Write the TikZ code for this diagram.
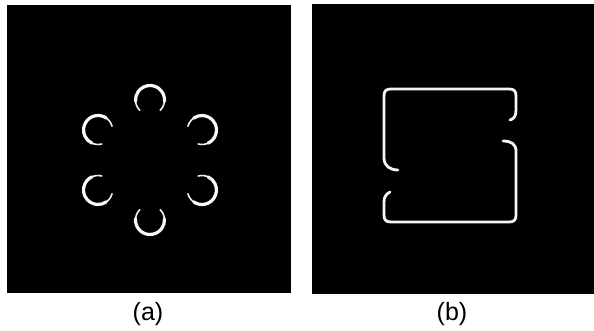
\documentclass[tikz,border=0pt]{standalone}
\usepackage{fontspec}
\setmainfont{Liberation Sans}
\usetikzlibrary{calc}
\begin{document}
\begin{tikzpicture}[x=1pt,y=1pt,
  panel/.style={fill=black,draw=none},
  ringthin/.style={draw=gray!12,line width=1.6pt,line cap=round},
  ringthick/.style={draw=gray!5,line width=3.2pt,line cap=round},
  loop/.style={draw=gray!8,line width=2.8pt,line cap=round,line join=round},
  lbl/.style={inner sep=0pt,font=\fontsize{25}{29}\selectfont}]
\useasboundingbox (0,0) rectangle (594,331);
\fill[white] (0,0) rectangle (594,331);
% panels
\fill[panel] (6.5,38) rectangle (290.5,326);
\fill[panel] (312,37) rectangle (594,327);
% (a) six crescents around a hexagon
\coordinate (hc) at (150,171);
\foreach \t in {90,150,210,270,330,30}{
  \draw[ringthin] ($(hc)+(\t:60)+(\t-135:14.5)$) arc[start angle=\t-135,end angle=\t+135,radius=14.5];
  \draw[ringthick] ($(hc)+(\t:60)+(\t-95:14.5)$) arc[start angle=\t-95,end angle=\t+95,radius=14.5];
}
% (b) S-shaped loop in two pieces
\coordinate (u0) at (398,161);
\coordinate (u1) at (510,211);
\coordinate (l0) at (503,190);
\coordinate (l1) at (390,139);
\draw[loop] (u0) .. controls (390,161) and (384,165) .. (384,173)
  -- (384,235) .. controls (384,240) and (386,242) .. (391,242)
  -- (509,242) .. controls (514,242) and (516,240) .. (516,235)
  -- (516,221) .. controls (516,215) and (514,212) .. (u1);
\draw[loop] (l0) .. controls (511,190) and (516,187) .. (516,180)
  -- (516,116) .. controls (516,111) and (514,109) .. (509,109)
  -- (391,109) .. controls (386,109) and (384,111) .. (384,116)
  -- (384,129) .. controls (384,134) and (386,137) .. (l1);
% labels
\node[lbl] (la) at (148,17) {(a)};
\node[lbl] (lb) at (452,17) {(b)};
\end{tikzpicture}
\end{document}
